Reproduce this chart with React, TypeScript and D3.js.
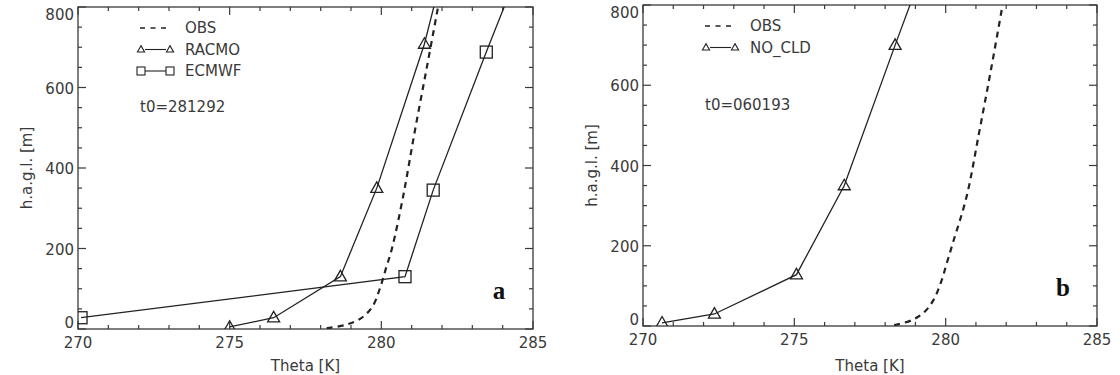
import { useMemo } from 'react'
import * as d3 from 'd3'

// theta [K], height [m]
const obsA: [number, number][] = [
  [278.2, 2], [278.8, 10], [279.3, 25], [279.7, 55], [279.95, 100], [280.15, 150],
  [280.35, 200], [280.72, 330], [281.1, 490], [281.5, 650], [281.87, 800],
]
const racmoA: [number, number][] = [
  [275.0, 5], [276.45, 28], [278.65, 130], [279.85, 350], [281.42, 708], [282.4, 1000],
]
const ecmwfA: [number, number][] = [
  [270.1, 28], [280.78, 130], [281.71, 345], [283.46, 688], [285.1, 1000],
]
const obsB: [number, number][] = [
  [278.3, 2], [278.9, 15], [279.3, 35], [279.6, 65], [279.85, 110], [280.05, 160],
  [280.25, 210], [280.69, 322], [281.1, 480], [281.5, 640], [281.88, 800],
]
const noCldB: [number, number][] = [
  [270.63, 8], [272.36, 30], [275.07, 128], [276.65, 350], [278.33, 700], [280.05, 1050],
]

const xTicks = [270, 275, 280, 285]
const yTicks = [0, 200, 400, 600, 800]

const FONT = 'DejaVu Sans'
const INK = '#3a3a3a'

type Series = { name: string; data: [number, number][]; kind: 'obs' | 'tri' | 'sq' }

interface PanelProps {
  id: string
  box: { x0: number; x1: number; y0: number; y1: number }
  series: Series[]
  stamp: string
  letter: string
  titleX: number
}

function tri(x: number, y: number, s: number) {
  return `M${x - s},${y + s * 0.7}L${x},${y - s * 1.05}L${x + s},${y + s * 0.7}Z`
}

// the end labels of the y axis sit inside the frame, like the original plot
function labelShift(v: number) {
  if (v === 0) return -6
  if (v === 800) return 8
  return 1
}

function Panel({ id, box, series, stamp, letter, titleX }: PanelProps) {
  const x = useMemo(() => d3.scaleLinear().domain([270, 285]).range([box.x0, box.x1]), [box])
  const y = useMemo(() => d3.scaleLinear().domain([0, 800]).range([box.y1, box.y0]), [box])

  const line = d3.line<[number, number]>().x(d => x(d[0])).y(d => y(d[1]))
  const smooth = d3.line<[number, number]>().x(d => x(d[0])).y(d => y(d[1])).curve(d3.curveCatmullRom)

  const minorX = d3.range(270, 286, 1)
  const minorY = d3.range(0, 801, 50)

  const lx = box.x0 + 62
  const lx2 = box.x0 + 93

  return (
    <g fontFamily={FONT} fill={INK}>
      <defs>
        <clipPath id={`clip-${id}`}>
          <rect x={box.x0} y={box.y0} width={box.x1 - box.x0} height={box.y1 - box.y0} />
        </clipPath>
      </defs>

      {/* frame */}
      <rect x={box.x0} y={box.y0} width={box.x1 - box.x0} height={box.y1 - box.y0}
        fill="none" stroke={INK} strokeWidth={1.3} />

      {/* ticks, all pointing inward */}
      {minorX.map(v => {
        const len = v % 5 === 0 ? 8 : 4
        return (
          <g key={'tx' + v} stroke={INK} strokeWidth={1.2}>
            <line x1={x(v)} x2={x(v)} y1={box.y1} y2={box.y1 - len} />
            <line x1={x(v)} x2={x(v)} y1={box.y0} y2={box.y0 + len} />
          </g>
        )
      })}
      {minorY.map(v => {
        const len = v % 200 === 0 ? 8 : 4
        return (
          <g key={'ty' + v} stroke={INK} strokeWidth={1.2}>
            <line x1={box.x0} x2={box.x0 + len} y1={y(v)} y2={y(v)} />
            <line x1={box.x1} x2={box.x1 - len} y1={y(v)} y2={y(v)} />
          </g>
        )
      })}

      {xTicks.map(v => (
        <text key={'lx' + v} x={x(v)} y={box.y1 + 19} fontSize={15} textAnchor="middle">{v}</text>
      ))}
      {yTicks.map(v => (
        <text key={'ly' + v} x={box.x0 - 4} y={y(v) + labelShift(v)} fontSize={15} textAnchor="end"
          dominantBaseline="central">{v}</text>
      ))}

      <text x={(box.x0 + box.x1) / 2} y={371} fontSize={15} textAnchor="middle">Theta [K]</text>
      <text transform={`translate(${titleX},${(box.y0 + box.y1) / 2}) rotate(-90)`} fontSize={15}
        textAnchor="middle" dominantBaseline="central">h.a.g.l. [m]</text>

      {/* data */}
      <g clipPath={`url(#clip-${id})`}>
        {series.map(s => s.kind === 'obs' ? (
          <path key={s.name} d={smooth(s.data) || ''} fill="none" stroke="#222"
            strokeWidth={2.2} strokeDasharray="6,5" />
        ) : (
          <g key={s.name}>
            <path d={line(s.data) || ''} fill="none" stroke="#222" strokeWidth={1.3} />
            {s.data.map((d, i) => s.kind === 'tri' ? (
              <path key={i} d={tri(x(d[0]), y(d[1]), 6)} fill="none" stroke="#222" strokeWidth={1.3} />
            ) : (
              <rect key={i} x={x(d[0]) - 6} y={y(d[1]) - 6} width={12} height={12}
                fill="none" stroke="#222" strokeWidth={1.3} />
            ))}
          </g>
        ))}
      </g>

      {/* legend */}
      {series.map((s, i) => {
        const ly = box.y0 + 21 + i * 21.5
        return (
          <g key={'lg' + s.name}>
            {s.kind === 'obs' ? (
              <line x1={lx} x2={lx2} y1={ly} y2={ly} stroke="#222" strokeWidth={1.3} strokeDasharray="5,5.5" />
            ) : (
              <g stroke="#222" strokeWidth={1.1} fill="none">
                <line x1={lx + 5} x2={lx2 - 5} y1={ly} y2={ly} />
                {s.kind === 'tri' ? (
                  <>
                    <path d={tri(lx + 1, ly, 3.6)} />
                    <path d={tri(lx2 - 1, ly, 3.6)} />
                  </>
                ) : (
                  <>
                    <rect x={lx - 3} y={ly - 4} width={8} height={8} />
                    <rect x={lx2 - 5} y={ly - 4} width={8} height={8} />
                  </>
                )}
              </g>
            )}
            <text x={lx + 45} y={ly} fontSize={15} dominantBaseline="central">{s.name}</text>
          </g>
        )
      })}
      <text x={lx} y={box.y0 + 100} fontSize={15} dominantBaseline="central">{stamp}</text>

      <text x={box.x1 - 34} y={box.y1 - 30} fontFamily="Liberation Serif" fontWeight="bold"
        fontSize={25} textAnchor="middle" fill="#111">{letter}</text>
    </g>
  )
}

export default function App() {
  return (
    <svg width={1120} height={375} style={{ position: 'absolute', left: 0, top: 0, background: '#fff' }}>
      <Panel
        id="a"
        box={{ x0: 78, x1: 533, y0: 7, y1: 329 }}
        series={[
          { name: 'OBS', data: obsA, kind: 'obs' },
          { name: 'RACMO', data: racmoA, kind: 'tri' },
          { name: 'ECMWF', data: ecmwfA, kind: 'sq' },
        ]}
        stamp="t0=281292"
        letter="a"
        titleX={27}
      />
      <Panel
        id="b"
        box={{ x0: 643, x1: 1097, y0: 5, y1: 326 }}
        series={[
          { name: 'OBS', data: obsB, kind: 'obs' },
          { name: 'NO_CLD', data: noCldB, kind: 'tri' },
        ]}
        stamp="t0=060193"
        letter="b"
        titleX={592}
      />
    </svg>
  )
}
